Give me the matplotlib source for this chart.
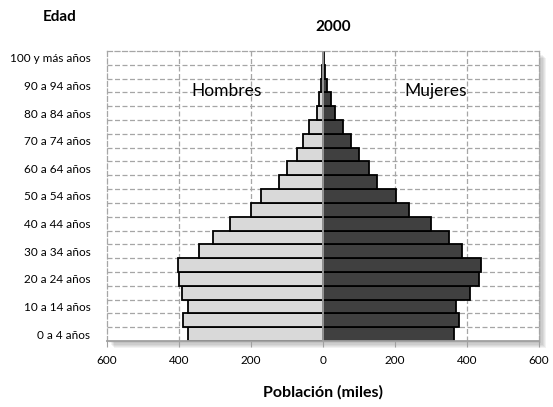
import numpy as np
import matplotlib.pyplot as plt
from matplotlib.patches import Rectangle

plt.rcParams['font.family'] = ['Lato', 'DejaVu Sans']

# age groups, bottom to top
edades = ['0 a 4 años', '5 a 9 años', '10 a 14 años', '15 a 19 años', '20 a 24 años',
          '25 a 29 años', '30 a 34 años', '35 a 39 años', '40 a 44 años', '45 a 49 años',
          '50 a 54 años', '55 a 59 años', '60 a 64 años', '65 a 69 años', '70 a 74 años',
          '75 a 79 años', '80 a 84 años', '85 a 89 años', '90 a 94 años', '95 a 99 años',
          '100 y más años']
hombres = [375, 388, 376, 391, 401, 403, 345, 306, 258, 201,
           171, 121, 99, 73, 55, 38, 18, 10, 6, 3, 1]
mujeres = [363, 378, 369, 409, 433, 438, 385, 350, 299, 240,
           203, 149, 128, 101, 78, 56, 33, 21, 10, 5, 2]
xticks = [-600, -400, -200, 0, 200, 400, 600]
xticklabels = ['600', '400', '200', '0', '200', '400', '600']

fig = plt.figure(figsize=(5.53, 4.07), dpi=100)
ax = fig.add_axes([0.1935, 0.1622, 0.7812, 0.7125])

# soft shadow behind the plot area (right and bottom)
pos = ax.get_position()
for k in range(6):
    off = (k + 1) * 1.2
    fig.patches.append(Rectangle((pos.x0 + off / 553, pos.y0 - off / 407), pos.width, pos.height,
                                 transform=fig.transFigure, facecolor='black',
                                 alpha=0.05, edgecolor='none', zorder=-5))
ax.set_facecolor('white')
ax.patch.set_zorder(-1)

y = np.arange(len(edades))
ax.barh(y, -np.array(hombres), height=1.0, color='#d9d9d9', edgecolor='black', linewidth=1.3, zorder=2)
ax.barh(y, mujeres, height=1.0, color='#404040', edgecolor='black', linewidth=1.3, zorder=2)

# dashed grid
grid_kw = dict(color='#a6a6a6', linestyle=(0, (4, 2)), linewidth=0.9, zorder=1)
for yy in np.arange(0.5, len(edades) - 1, 1.0):
    ax.axhline(yy, **grid_kw)
for xx in [-400, -200, 200, 400]:
    ax.axvline(xx, **grid_kw)
ax.axvline(0, color='#a0a0a0', linewidth=1.3, zorder=3)

ax.set_xlim(-600, 600)
ax.set_ylim(-0.5, len(edades) - 0.5)
ax.set_xticks(xticks)
ax.set_xticklabels(xticklabels, fontsize=8.5)
ax.set_yticks(y[::2])
ax.set_yticklabels(edades[::2], fontsize=8.5)
ax.tick_params(axis='y', length=0, pad=12)
ax.tick_params(axis='x', length=4, color='#a0a0a0', pad=6)

for s in ['top', 'left', 'right']:
    ax.spines[s].set_color('#a6a6a6')
    ax.spines[s].set_linestyle((0, (4, 2)))
    ax.spines[s].set_linewidth(0.9)
ax.spines['bottom'].set_color('#a0a0a0')
ax.spines['bottom'].set_linewidth(1.3)

ax.text(-267, 17.6, 'Hombres', ha='center', va='center', fontsize=12.5, zorder=4)
ax.text(314, 17.6, 'Mujeres', ha='center', va='center', fontsize=12.5, zorder=4)

fig.text(333 / 553, 1 - 27 / 407, '2000', ha='center', va='center', fontsize=11, fontweight='bold')
fig.text(60 / 553, 1 - 17 / 407, 'Edad', ha='center', va='center', fontsize=11, fontweight='bold')
fig.text(323 / 553, 1 - 392 / 407, 'Población (miles)', ha='center', va='center', fontsize=11.5, fontweight='bold')

fig.savefig('out.png', dpi=100)
